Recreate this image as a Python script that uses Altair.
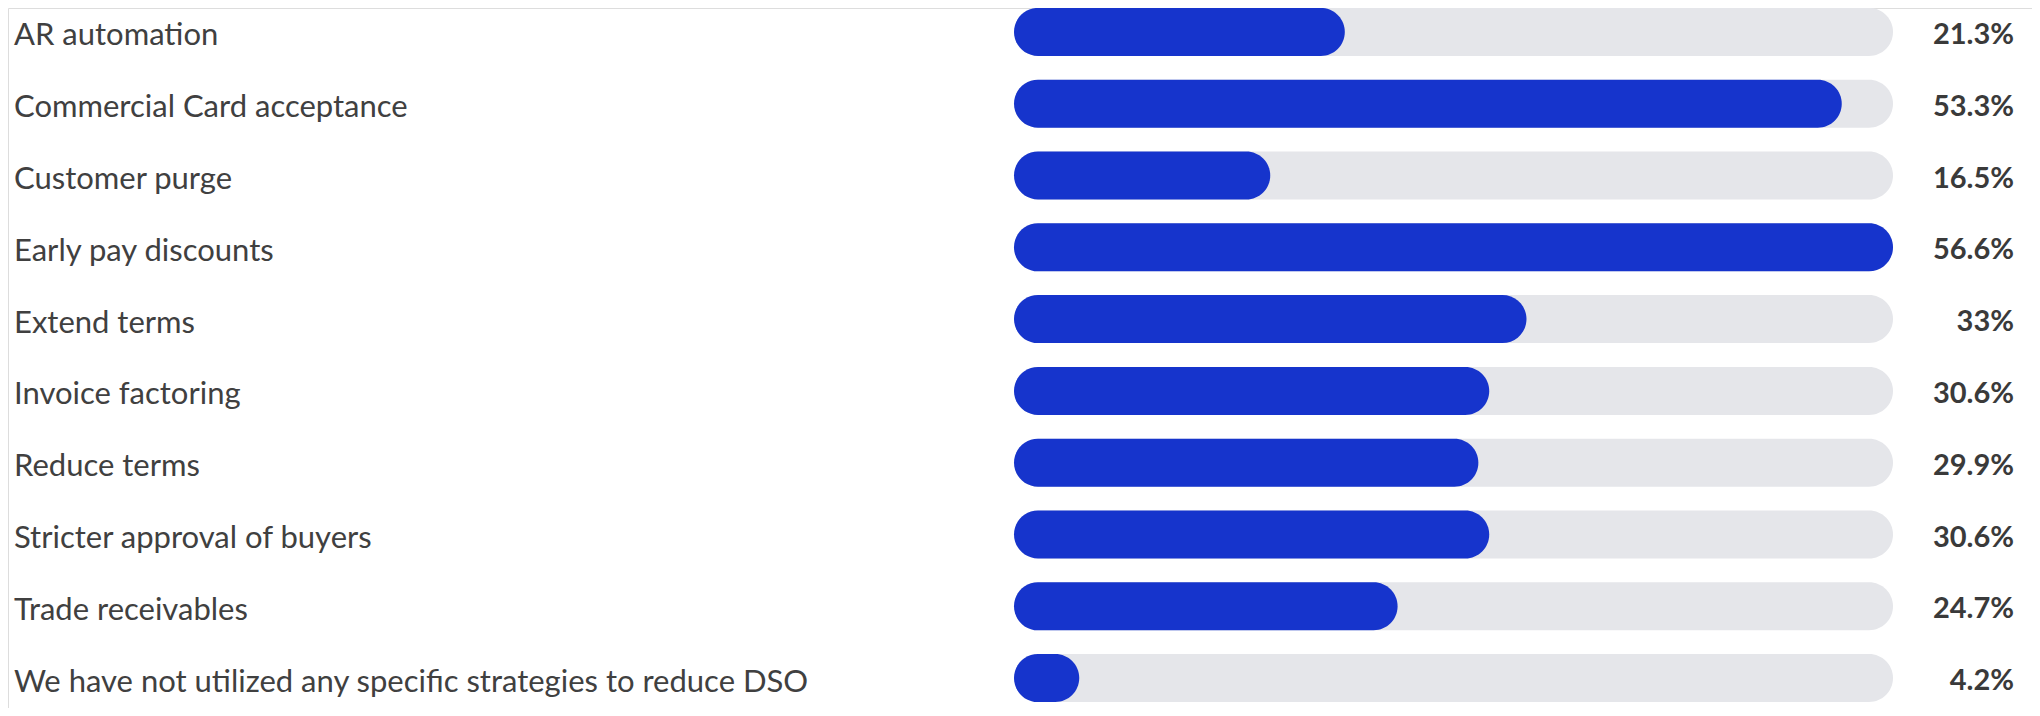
import altair as alt
import pandas as pd

categories = [
    "AR automation",
    "Commercial Card acceptance",
    "Customer purge",
    "Early pay discounts",
    "Extend terms",
    "Invoice factoring",
    "Reduce terms",
    "Stricter approval of buyers",
    "Trade receivables",
    "We have not utilized any specific strategies to reduce DSO",
]
values = [21.3, 53.3, 16.5, 56.6, 33.0, 30.6, 29.9, 30.6, 24.7, 4.2]
value_labels = ["21.3%", "53.3%", "16.5%", "56.6%", "33%", "30.6%", "29.9%", "30.6%", "24.7%", "4.2%"]
max_value = 56.6

df = pd.DataFrame({"cat": categories, "val": values, "lab": value_labels, "full": [max_value] * len(categories)})

W, H = 2024, 700
yscale = alt.Scale(domain=categories, range=[-12.0, 706.0], paddingInner=0, paddingOuter=0)
xscale = alt.Scale(domain=[0, max_value], range=[1006, 1885])

base = alt.Chart(df)

track = base.mark_bar(height=48, cornerRadius=24, color="#E5E6EA").encode(
    y=alt.Y("cat:N", scale=yscale, axis=None, sort=None),
    x=alt.X("full:Q", scale=xscale, axis=None),
    x2=alt.datum(0),
)
bars = base.mark_bar(height=48, cornerRadius=24, color="#1634CC").encode(
    y=alt.Y("cat:N", scale=yscale, axis=None, sort=None),
    x=alt.X("val:Q", scale=xscale, axis=None),
    x2=alt.datum(0),
)
left = base.mark_text(align="left", baseline="alphabetic", font="Lato", fontSize=31, color="#404040", dy=13.5).encode(
    y=alt.Y("cat:N", scale=yscale, axis=None, sort=None),
    x=alt.value(6),
    text="cat:N",
)
right = base.mark_text(align="right", baseline="alphabetic", font="Lato", fontSize=29, fontWeight="bold", color="#3a3a3a", dy=12).encode(
    y=alt.Y("cat:N", scale=yscale, axis=None, sort=None),
    x=alt.value(2006),
    text="lab:N",
)

chart = alt.layer(track, bars, left, right).properties(
    width=W, height=H, autosize=alt.AutoSizeParams(type="none"), padding=0
).configure_view(stroke=None).configure(background="white")

chart.save("out.html", embed_options={"renderer": "svg", "actions": False})
